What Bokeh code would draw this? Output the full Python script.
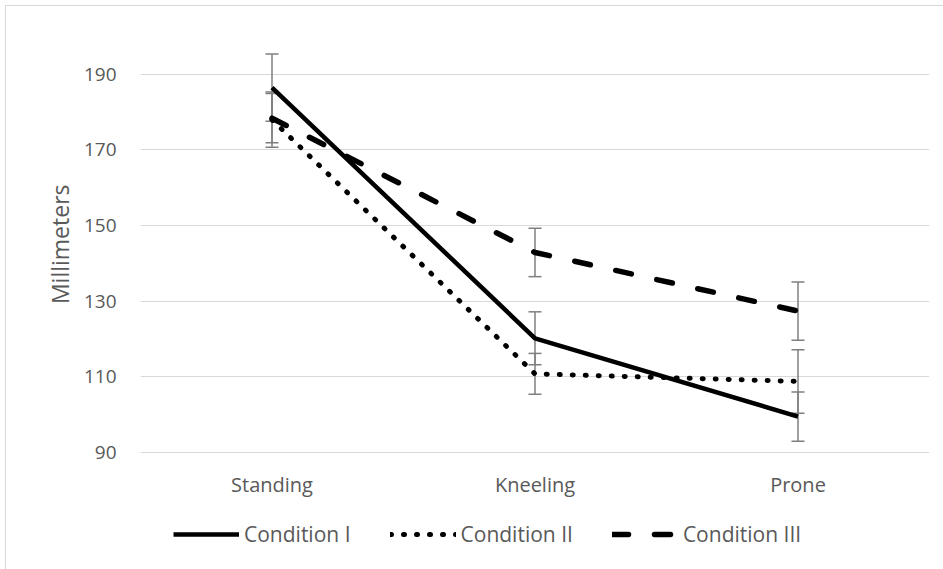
from bokeh.plotting import figure
from bokeh.models import ColumnDataSource, Whisker, TeeHead, Legend, LegendItem, FixedTicker, Range1d, Title
from bokeh.embed import file_html
from bokeh.resources import INLINE

positions = ["Standing", "Kneeling", "Prone"]
cond1 = [186.5, 120.2, 99.5]
cond1_err = [8.9, 7.0, 6.5]
cond2 = [178.0, 110.8, 108.8]
cond2_err = [7.3, 5.4, 8.4]
cond3 = [178.4, 142.9, 127.4]
cond3_err = [6.5, 6.4, 7.7]
names = ["Condition I", "Condition II", "Condition III"]
y_ticks = [90, 110, 130, 150, 170, 190]
y_min, y_max = 90, 200

FONT = "Open Sans"
TXT = "#595959"

W, H = 938, 564
TOP = 30
# frame runs to the bottom of the figure; the x axis is pinned at y_min
scale = 416 / (y_max - y_min)
y_bottom = y_max - (H - TOP) / scale

p = figure(x_range=positions, y_range=Range1d(y_bottom, y_max), width=W, height=H,
           output_backend="svg", toolbar_location=None,
           min_border_left=134, min_border_right=15, min_border_top=TOP, min_border_bottom=0)
p.margin = (5, 0, 0, 5)
p.styles = {"border-top": "1px solid #d9d9d9", "border-left": "1px solid #d9d9d9"}
p.outline_line_color = None
p.xgrid.grid_line_color = None
p.ygrid.grid_line_color = "#d9d9d9"
p.ygrid.grid_line_width = 1
p.yaxis.ticker = FixedTicker(ticks=y_ticks)
p.xaxis.fixed_location = y_min
for ax in (p.xaxis, p.yaxis):
    ax.axis_line_color = None
    ax.major_tick_line_color = None
    ax.minor_tick_line_color = None
    ax.major_label_text_font = FONT
    ax.major_label_text_color = TXT
p.xaxis.major_label_text_font_size = "20px"
p.yaxis.major_label_text_font_size = "19px"
p.xaxis.major_label_standoff = 12
p.yaxis.major_label_standoff = 18

ylabel = Title(text="Millimeters", align="right", offset=148, standoff=10,
               text_font=FONT, text_font_size="23px", text_font_style="normal",
               text_color=TXT)
p.add_layout(ylabel, "left")

series = [(cond1, cond1_err), (cond2, cond2_err), (cond3, cond3_err)]
for vals, errs in series:
    src = ColumnDataSource(dict(x=positions,
                                upper=[v + e for v, e in zip(vals, errs)],
                                lower=[v - e for v, e in zip(vals, errs)]))
    w = Whisker(source=src, base="x", upper="upper", lower="lower",
                line_color="#7f7f7f", line_width=1.5,
                upper_head=TeeHead(size=13, line_color="#7f7f7f", line_width=1.5),
                lower_head=TeeHead(size=13, line_color="#7f7f7f", line_width=1.5))
    p.add_layout(w)

r1 = p.line(positions, cond1, line_color="black", line_width=4.5, line_join="round")
r2 = p.line(positions, cond2, line_color="black", line_width=5, line_dash="1 12",
            line_cap="round", line_join="round")
r3 = p.line(positions, cond3, line_color="black", line_width=5.5, line_dash="16 26",
            line_cap="round", line_join="round")

legend = Legend(items=[LegendItem(label=names[0], renderers=[r1]),
                       LegendItem(label=names[1], renderers=[r2]),
                       LegendItem(label=names[2], renderers=[r3])],
                orientation="horizontal", location=(33, 22),
                glyph_width=66, glyph_height=24, label_standoff=5, spacing=39,
                padding=0, margin=0, border_line_color=None, background_fill_alpha=0,
                label_text_font=FONT, label_text_font_size="21px", label_text_color=TXT)
p.add_layout(legend)

open("out.html", "w").write(file_html(p, INLINE))
